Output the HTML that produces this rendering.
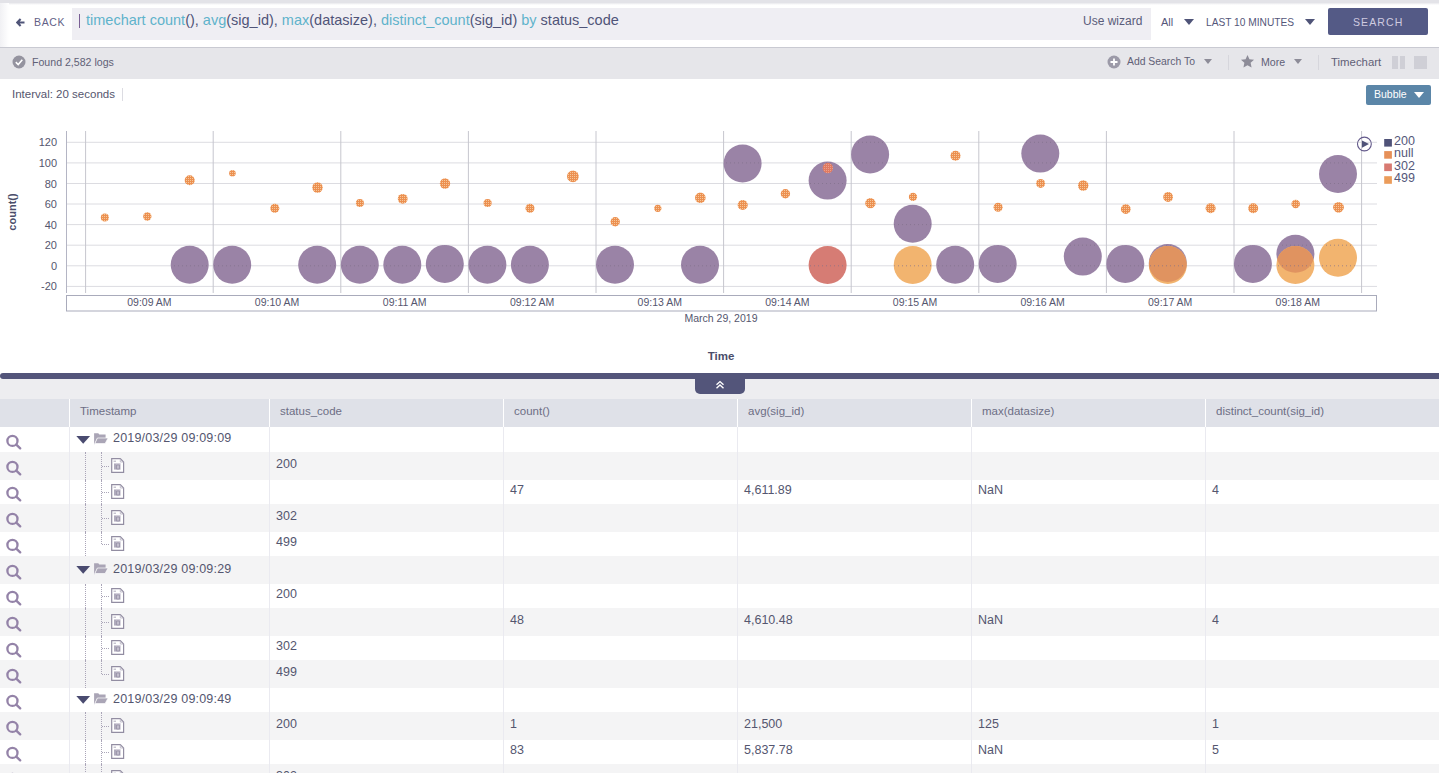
<!DOCTYPE html>
<html><head><meta charset="utf-8">
<style>
*{margin:0;padding:0;box-sizing:border-box}
html,body{width:1439px;height:773px;overflow:hidden;background:#fff;font-family:"Liberation Sans",sans-serif}
.a{position:absolute}
.t{position:absolute;white-space:nowrap;line-height:16px}
#topstrip{left:0;top:0;width:1439px;height:5px;background:linear-gradient(#e3e3e8 0,#e3e3e8 2.5px,#fff 5px)}
#qbox{left:72px;top:8px;width:1079px;height:32px;background:#efeef3}
#statusbar{left:0;top:47px;width:1439px;height:32px;background:#e6e6ea;border-top:1px solid #c9cad2}
.gl{stroke:#dcdce1;stroke-width:1}
.gd{stroke:#7f708c;stroke-width:1;stroke-dasharray:1 3;opacity:.7}
.vl{stroke:#c6c6ce;stroke-width:1}
.ax{stroke:#b4b5c4;stroke-width:1}
.xb{fill:none;stroke:#a9abbb;stroke-width:1}
.yl{font-family:"Liberation Sans",sans-serif;font-size:11px;fill:#55566e;text-anchor:end}
.xl{font-family:"Liberation Sans",sans-serif;font-size:10.5px;fill:#55566e;text-anchor:middle}
.tt{font-family:"Liberation Sans",sans-serif;font-size:11.5px;font-weight:bold;fill:#4a4d6a;text-anchor:middle}
.yt{font-family:"Liberation Sans",sans-serif;font-size:11px;font-weight:bold;fill:#4a4d6a;text-anchor:middle}
.lg{font-family:"Liberation Sans",sans-serif;font-size:12.5px;fill:#55577a}
.row{position:absolute;left:0;width:1439px}
.mag,.ico{position:absolute}
.ts{font-size:12.5px;color:#54566f;letter-spacing:0.2px}
.td{font-size:12.5px;color:#54566f}
.th{font-size:11.5px;color:#6d6e85;margin-top:-1px}
.vd{position:absolute;width:0;border-left:1px dotted #aaa5b8}
.hd{position:absolute;height:0;border-top:1px dotted #aaa5b8}
.coldiv{position:absolute;top:399px;width:1px;height:374px;background:#eaeaf0}
</style></head><body>
<div class="a" id="topstrip"></div>
<div class="a" style="left:0;top:3px;width:9px;height:44px;background:linear-gradient(to right,#f1f1f4,#fff)"></div>
<div class="a" id="qbox"></div>
<svg class="a" style="left:16px;top:17.5px" width="9" height="9" viewBox="0 0 9 9"><path d="M1.2 4.5 H8.5 M4.6 1 L1.2 4.5 L4.6 8" fill="none" stroke="#4f5478" stroke-width="2.1"/></svg>
<div class="t" style="left:34px;top:14px;font-size:10.5px;letter-spacing:0.65px;color:#625f86">BACK</div>
<div class="a" style="left:79px;top:14.2px;width:1.2px;height:14px;background:#7a5f95"></div>
<div class="t" style="left:86px;top:12px;font-size:14.5px;color:#4f5478"><span style="color:#5fb3cb">timechart count</span>(), <span style="color:#5fb3cb">avg</span>(sig_id), <span style="color:#5fb3cb">max</span>(datasize), <span style="color:#5fb3cb">distinct_count</span>(sig_id) <span style="color:#5fb3cb">by</span> status_code</div>
<div class="t" style="left:1083px;top:13px;font-size:12px;color:#5a5c7a">Use wizard</div>
<div class="t" style="left:1161px;top:14px;font-size:11px;color:#55577a">All</div>
<svg class="a" style="left:1184px;top:19px" width="10" height="6"><path d="M0 0 H10 L5 6 Z" fill="#4f5478"/></svg>
<div class="t" style="left:1206px;top:15px;font-size:10.2px;color:#55577a">LAST 10 MINUTES</div>
<svg class="a" style="left:1305px;top:19px" width="10" height="6"><path d="M0 0 H10 L5 6 Z" fill="#4f5478"/></svg>
<div class="a" style="left:1328px;top:8px;width:100px;height:26.5px;background:#545a86;border-radius:2px"></div>
<div class="t" style="left:1353px;top:14px;font-size:10.5px;letter-spacing:1.1px;color:#cfcbe0">SEARCH</div>

<div class="a" id="statusbar"></div>
<svg class="a" style="left:12px;top:55px" width="14" height="14" viewBox="0 0 14 14"><circle cx="7" cy="7" r="6.5" fill="#94939f"/><path d="M3.8 7.2 L6.2 9.5 L10.3 4.8" fill="none" stroke="#fff" stroke-width="1.6"/></svg>
<div class="t" style="left:32px;top:54px;font-size:10.6px;color:#5f6076">Found 2,582 logs</div>
<svg class="a" style="left:1107px;top:55px" width="14" height="14" viewBox="0 0 14 14"><circle cx="7" cy="7" r="6.5" fill="#9c9aa8"/><path d="M7 3.5 V10.5 M3.5 7 H10.5" stroke="#fff" stroke-width="1.8"/></svg>
<div class="t" style="left:1127px;top:54px;font-size:10.4px;color:#5f6076">Add Search To</div>
<svg class="a" style="left:1204px;top:59px" width="8" height="5"><path d="M0 0 H8 L4 5 Z" fill="#8d8c98"/></svg>
<div class="a" style="left:1228px;top:55px;width:1px;height:15px;background:#d6d6dc"></div>
<svg class="a" style="left:1240px;top:54px" width="15" height="15" viewBox="0 0 24 24"><path d="M12 1.5 L15.1 8.3 L22.5 9.1 L17 14.1 L18.5 21.5 L12 17.8 L5.5 21.5 L7 14.1 L1.5 9.1 L8.9 8.3 Z" fill="#8d8c98"/></svg>
<div class="t" style="left:1261px;top:54px;font-size:10.6px;color:#5f6076">More</div>
<svg class="a" style="left:1294px;top:59px" width="8" height="5"><path d="M0 0 H8 L4 5 Z" fill="#8d8c98"/></svg>
<div class="a" style="left:1318px;top:55px;width:1px;height:15px;background:#d6d6dc"></div>
<div class="t" style="left:1331px;top:54px;font-size:11.4px;color:#5f6076">Timechart</div>
<div class="a" style="left:1392px;top:56px;width:5.5px;height:13px;background:#cfcfd6"></div>
<div class="a" style="left:1399.5px;top:56px;width:5.5px;height:13px;background:#cfcfd6"></div>
<div class="a" style="left:1414px;top:56px;width:13px;height:13px;background:#cfcfd6"></div>

<div class="t" style="left:12px;top:86px;font-size:11.5px;color:#55566e">Interval: 20 seconds</div>
<div class="a" style="left:122px;top:88px;width:1px;height:13px;background:#dcdce2"></div>
<div class="a" style="left:1366px;top:85px;width:65px;height:20px;background:#5b86a8;border-radius:2px"></div>
<div class="t" style="left:1374px;top:86px;font-size:10.5px;color:#fff">Bubble</div>
<svg class="a" style="left:1414px;top:92px" width="10" height="6"><path d="M0 0 H10 L5 6 Z" fill="#fff"/></svg>

<svg class="a" style="left:0;top:0" width="1439" height="370">
<defs><pattern id="hatch2" width="2" height="2" patternUnits="userSpaceOnUse"><rect width="2" height="2" fill="#e07a62"/><rect width="1" height="1" fill="#eba08a"/></pattern><pattern id="hatch" width="2" height="2" patternUnits="userSpaceOnUse"><rect width="2" height="2" fill="#ec9050"/><rect width="1" height="1" fill="#f6c79a"/></pattern></defs>
<line x1="66" y1="142.3" x2="1377" y2="142.3" class="gl"/>
<text x="57" y="146.3" class="yl">120</text>
<line x1="66" y1="162.9" x2="1377" y2="162.9" class="gl"/>
<text x="57" y="166.9" class="yl">100</text>
<line x1="66" y1="183.5" x2="1377" y2="183.5" class="gl"/>
<text x="57" y="187.5" class="yl">80</text>
<line x1="66" y1="204.0" x2="1377" y2="204.0" class="gl"/>
<text x="57" y="208.0" class="yl">60</text>
<line x1="66" y1="224.6" x2="1377" y2="224.6" class="gl"/>
<text x="57" y="228.6" class="yl">40</text>
<line x1="66" y1="245.2" x2="1377" y2="245.2" class="gl"/>
<text x="57" y="249.2" class="yl">20</text>
<line x1="66" y1="265.8" x2="1377" y2="265.8" class="gl"/>
<text x="57" y="269.8" class="yl">0</text>
<line x1="66" y1="286.4" x2="1377" y2="286.4" class="gl"/>
<text x="57" y="290.4" class="yl">-20</text>
<line x1="85.6" y1="131" x2="85.6" y2="293" class="vl"/>
<line x1="213.2" y1="131" x2="213.2" y2="293" class="vl"/>
<line x1="340.8" y1="131" x2="340.8" y2="293" class="vl"/>
<line x1="468.4" y1="131" x2="468.4" y2="293" class="vl"/>
<line x1="596.0" y1="131" x2="596.0" y2="293" class="vl"/>
<line x1="723.6" y1="131" x2="723.6" y2="293" class="vl"/>
<line x1="851.2" y1="131" x2="851.2" y2="293" class="vl"/>
<line x1="978.8" y1="131" x2="978.8" y2="293" class="vl"/>
<line x1="1106.4" y1="131" x2="1106.4" y2="293" class="vl"/>
<line x1="1234.0" y1="131" x2="1234.0" y2="293" class="vl"/>
<line x1="1361.6" y1="131" x2="1361.6" y2="293" class="vl"/>
<line x1="66.5" y1="131" x2="66.5" y2="293" class="ax"/>
<circle cx="189.7" cy="264.8" r="19" fill="#9a83a6"/>
<circle cx="232.2" cy="264.8" r="19" fill="#9a83a6"/>
<circle cx="317.2" cy="264.8" r="19" fill="#9a83a6"/>
<circle cx="359.8" cy="264.8" r="19" fill="#9a83a6"/>
<circle cx="402.3" cy="264.8" r="19" fill="#9a83a6"/>
<circle cx="444.8" cy="263.9" r="19" fill="#9a83a6"/>
<circle cx="487.4" cy="264.8" r="19" fill="#9a83a6"/>
<circle cx="529.9" cy="264.8" r="19" fill="#9a83a6"/>
<circle cx="615.0" cy="264.8" r="19" fill="#9a83a6"/>
<circle cx="700.0" cy="264.8" r="19" fill="#9a83a6"/>
<circle cx="742.6" cy="163.5" r="19" fill="#9a83a6"/>
<circle cx="827.6" cy="180.6" r="19" fill="#9a83a6"/>
<circle cx="870.1" cy="154.5" r="19" fill="#9a83a6"/>
<circle cx="912.7" cy="223.7" r="19" fill="#9a83a6"/>
<circle cx="955.2" cy="264.8" r="19" fill="#9a83a6"/>
<circle cx="997.7" cy="263.9" r="19" fill="#9a83a6"/>
<circle cx="1040.3" cy="153.6" r="19" fill="#9a83a6"/>
<circle cx="1082.8" cy="256.6" r="19" fill="#9a83a6"/>
<circle cx="1125.3" cy="263.9" r="19" fill="#9a83a6"/>
<circle cx="1167.8" cy="263.0" r="19" fill="#9a83a6"/>
<circle cx="1252.9" cy="263.9" r="19" fill="#9a83a6"/>
<circle cx="1295.4" cy="253.7" r="19" fill="#9a83a6"/>
<circle cx="1338.0" cy="174.0" r="19" fill="#9a83a6"/>
<circle cx="827.6" cy="265.0" r="19" fill="#d67c74"/>
<circle cx="912.7" cy="265.0" r="19" fill="#f2b46f"/>
<circle cx="1295.4" cy="265.0" r="19" fill="#f2b46f"/>
<circle cx="1338.0" cy="257.8" r="19" fill="#f2b46f"/>
<circle cx="1167.8" cy="265.0" r="19" fill="#f2b46f"/>
<clipPath id="c28"><circle cx="1295.4" cy="253.7" r="19"/></clipPath>
<circle cx="1295.4" cy="265.0" r="19" fill="#e09360" clip-path="url(#c28)"/>
<clipPath id="c25"><circle cx="1167.8" cy="263.0" r="19"/></clipPath>
<circle cx="1167.8" cy="265.0" r="19" fill="#e09360" clip-path="url(#c25)"/>
<clipPath id="bub">
<circle cx="189.7" cy="264.8" r="18.5"/>
<circle cx="232.2" cy="264.8" r="18.5"/>
<circle cx="317.2" cy="264.8" r="18.5"/>
<circle cx="359.8" cy="264.8" r="18.5"/>
<circle cx="402.3" cy="264.8" r="18.5"/>
<circle cx="444.8" cy="263.9" r="18.5"/>
<circle cx="487.4" cy="264.8" r="18.5"/>
<circle cx="529.9" cy="264.8" r="18.5"/>
<circle cx="615.0" cy="264.8" r="18.5"/>
<circle cx="700.0" cy="264.8" r="18.5"/>
<circle cx="742.6" cy="163.5" r="18.5"/>
<circle cx="827.6" cy="180.6" r="18.5"/>
<circle cx="870.1" cy="154.5" r="18.5"/>
<circle cx="912.7" cy="223.7" r="18.5"/>
<circle cx="955.2" cy="264.8" r="18.5"/>
<circle cx="997.7" cy="263.9" r="18.5"/>
<circle cx="1040.3" cy="153.6" r="18.5"/>
<circle cx="1082.8" cy="256.6" r="18.5"/>
<circle cx="1125.3" cy="263.9" r="18.5"/>
<circle cx="1167.8" cy="263.0" r="18.5"/>
<circle cx="1252.9" cy="263.9" r="18.5"/>
<circle cx="1295.4" cy="253.7" r="18.5"/>
<circle cx="1338.0" cy="174.0" r="18.5"/>
<circle cx="827.6" cy="265.0" r="18.5"/>
<circle cx="912.7" cy="265.0" r="18.5"/>
<circle cx="1295.4" cy="265.0" r="18.5"/>
<circle cx="1338.0" cy="257.8" r="18.5"/>
<circle cx="1167.8" cy="265.0" r="18.5"/>
</clipPath>
<g clip-path="url(#bub)">
<line x1="66" y1="142.3" x2="1377" y2="142.3" class="gd"/>
<line x1="66" y1="162.9" x2="1377" y2="162.9" class="gd"/>
<line x1="66" y1="183.5" x2="1377" y2="183.5" class="gd"/>
<line x1="66" y1="204.0" x2="1377" y2="204.0" class="gd"/>
<line x1="66" y1="224.6" x2="1377" y2="224.6" class="gd"/>
<line x1="66" y1="245.2" x2="1377" y2="245.2" class="gd"/>
<line x1="66" y1="265.8" x2="1377" y2="265.8" class="gd"/>
<line x1="66" y1="286.4" x2="1377" y2="286.4" class="gd"/>
</g>
<circle cx="104.8" cy="217.5" r="4.0" fill="url(#hatch)"/>
<circle cx="147.3" cy="216.5" r="4.15" fill="url(#hatch)"/>
<circle cx="189.7" cy="180.2" r="5.05" fill="url(#hatch)"/>
<circle cx="232.4" cy="173.2" r="3.25" fill="url(#hatch)"/>
<circle cx="274.8" cy="208.2" r="4.5" fill="url(#hatch)"/>
<circle cx="317.5" cy="187.5" r="5.2" fill="url(#hatch)"/>
<circle cx="359.9" cy="203" r="4.0" fill="url(#hatch)"/>
<circle cx="402.7" cy="198.8" r="4.9" fill="url(#hatch)"/>
<circle cx="445" cy="183.5" r="5.15" fill="url(#hatch)"/>
<circle cx="487.6" cy="203" r="4.05" fill="url(#hatch)"/>
<circle cx="530" cy="208.2" r="4.5" fill="url(#hatch)"/>
<circle cx="572.9" cy="176.3" r="5.9" fill="url(#hatch)"/>
<circle cx="615.2" cy="221.7" r="4.7" fill="url(#hatch)"/>
<circle cx="657.8" cy="208.3" r="3.6" fill="url(#hatch)"/>
<circle cx="700.3" cy="197.8" r="5.3" fill="url(#hatch)"/>
<circle cx="742.7" cy="205" r="5.05" fill="url(#hatch)"/>
<circle cx="785.4" cy="193.7" r="4.7" fill="url(#hatch)"/>
<circle cx="827.8" cy="168" r="5.2" fill="url(#hatch2)"/>
<circle cx="870.4" cy="203.2" r="5.15" fill="url(#hatch)"/>
<circle cx="913" cy="196.9" r="4.15" fill="url(#hatch)"/>
<circle cx="955.5" cy="155.7" r="5.05" fill="url(#hatch)"/>
<circle cx="998.1" cy="207.2" r="4.5" fill="url(#hatch)"/>
<circle cx="1040.6" cy="183.4" r="4.5" fill="url(#hatch)"/>
<circle cx="1083.2" cy="185.5" r="5.2" fill="url(#hatch)"/>
<circle cx="1125.8" cy="209.1" r="4.9" fill="url(#hatch)"/>
<circle cx="1168.1" cy="197" r="4.9" fill="url(#hatch)"/>
<circle cx="1210.6" cy="208.2" r="5.0" fill="url(#hatch)"/>
<circle cx="1253.2" cy="208.2" r="5.0" fill="url(#hatch)"/>
<circle cx="1295.7" cy="203.9" r="4.25" fill="url(#hatch)"/>
<circle cx="1338.5" cy="207.3" r="5.4" fill="url(#hatch)"/>
<rect x="66.5" y="295.5" width="1310" height="15.5" class="xb"/>
<text x="149.4" y="306" class="xl">09:09 AM</text>
<text x="277.0" y="306" class="xl">09:10 AM</text>
<text x="404.6" y="306" class="xl">09:11 AM</text>
<text x="532.2" y="306" class="xl">09:12 AM</text>
<text x="659.8" y="306" class="xl">09:13 AM</text>
<text x="787.4" y="306" class="xl">09:14 AM</text>
<text x="915.0" y="306" class="xl">09:15 AM</text>
<text x="1042.6" y="306" class="xl">09:16 AM</text>
<text x="1170.2" y="306" class="xl">09:17 AM</text>
<text x="1297.8" y="306" class="xl">09:18 AM</text>
<text x="721" y="322" class="xl">March 29, 2019</text>
<text x="721" y="360" class="tt">Time</text>
<text transform="translate(16,212) rotate(-90)" class="yt">count()</text>
<circle cx="1364.4" cy="144" r="6.9" fill="none" stroke="#62588a" stroke-width="1.1"/>
<path d="M1362 140.4 L1369 144 L1362 147.7 Z" fill="#4f5278"/>
<rect x="1384.2" y="139" width="7.7" height="7.6" fill="#4f5278"/>
<text x="1394" y="144.9" class="lg">200</text>
<rect x="1384.2" y="151.1" width="7.7" height="7.6" fill="#e69058"/>
<text x="1394" y="157.4" class="lg">null</text>
<rect x="1384.2" y="163.5" width="7.7" height="7.6" fill="#d87a72"/>
<text x="1394" y="169.9" class="lg">302</text>
<rect x="1384.2" y="176.2" width="7.7" height="7.6" fill="#eb9c5a"/>
<text x="1394" y="182.4" class="lg">499</text>
</svg>

<div class="a" style="left:0;top:373px;width:1439px;height:6px;background:#53557a;border-radius:3px 0 0 3px"></div>
<div class="a" style="left:0;top:379px;width:1439px;height:20px;background:#ededf0"></div>
<div class="a" style="left:695px;top:378px;width:50px;height:16px;background:#53557a;border-radius:0 0 5px 5px"></div>
<svg class="a" style="left:715px;top:380px" width="10" height="10" viewBox="0 0 10 10"><path d="M1.5 4.8 L5 1.6 L8.5 4.8 M1.5 8.2 L5 5 L8.5 8.2" fill="none" stroke="#fff" stroke-width="1.4"/></svg>

<div class="a" style="left:0;top:399px;width:1439px;height:28px;background:#dfe1e8"></div>
<div class="t th" style="left:80px;top:404px">Timestamp</div>
<div class="t th" style="left:280px;top:404px">status_code</div>
<div class="t th" style="left:514px;top:404px">count()</div>
<div class="t th" style="left:748px;top:404px">avg(sig_id)</div>
<div class="t th" style="left:982px;top:404px">max(datasize)</div>
<div class="t th" style="left:1216px;top:404px">distinct_count(sig_id)</div>
<div class="row" style="top:427px;height:25px;background:#ffffff"></div>
<svg class="mag" style="left:6px;top:433.5px" width="17" height="17" viewBox="0 0 17 17"><circle cx="6.45" cy="6.9" r="5.05" fill="none" stroke="#9483a8" stroke-width="2.3"/><line x1="10.3" y1="10.6" x2="14.2" y2="14.3" stroke="#9483a8" stroke-width="2.4" stroke-linecap="round"/></svg>
<svg class="ico" style="left:76px;top:432.5px" width="34" height="14" viewBox="0 0 34 14"><path d="M0.3 3 L14.1 3 L7.2 10.7 Z" fill="#4a4b70"/><path d="M18.1 0.3 h4.2 l1 1.3 h6.3 v3.5 h-8.4 l-3.1 6.6 z" fill="#aaa5b6"/><path d="M21.4 5 h10.7 l-3 5.6 h-10.3 z" fill="#aaa5b6" stroke="#fff" stroke-width="0.7"/></svg>
<div class="t ts" style="left:113px;top:430.0px">2019/03/29 09:09:09</div>
<div class="row" style="top:452px;height:28px;background:#f4f4f5"></div>
<svg class="mag" style="left:6px;top:460.0px" width="17" height="17" viewBox="0 0 17 17"><circle cx="6.45" cy="6.9" r="5.05" fill="none" stroke="#9483a8" stroke-width="2.3"/><line x1="10.3" y1="10.6" x2="14.2" y2="14.3" stroke="#9483a8" stroke-width="2.4" stroke-linecap="round"/></svg>
<div class="vd" style="left:85px;top:452px;height:28px"></div>
<div class="vd" style="left:101px;top:452px;height:28px"></div>
<div class="hd" style="left:102px;top:466px;width:7px"></div>
<svg class="ico" style="left:111px;top:457.8px" width="14" height="15" viewBox="0 0 14 15"><path d="M0.7 0.7 h8.6 l3.3 3.3 v10.3 h-11.9 z" fill="#fff" stroke="#928da2" stroke-width="1.2"/><path d="M9.3 0.7 v3.3 h3.3" fill="none" stroke="#b5b0c0" stroke-width="0.8"/><line x1="2.6" y1="3.2" x2="5" y2="3.2" stroke="#9b96aa" stroke-width="0.8"/><rect x="3" y="5.3" width="6.6" height="6.4" fill="#c2bdcc"/><path d="M4 6 v5 M5.5 7 h3 v4 h-3 z" fill="none" stroke="#948fa4" stroke-width="0.8"/></svg>
<div class="t td" style="left:276.0px;top:456.0px">200</div>
<div class="row" style="top:480px;height:24px;background:#ffffff"></div>
<svg class="mag" style="left:6px;top:486.0px" width="17" height="17" viewBox="0 0 17 17"><circle cx="6.45" cy="6.9" r="5.05" fill="none" stroke="#9483a8" stroke-width="2.3"/><line x1="10.3" y1="10.6" x2="14.2" y2="14.3" stroke="#9483a8" stroke-width="2.4" stroke-linecap="round"/></svg>
<div class="vd" style="left:85px;top:480px;height:24px"></div>
<div class="vd" style="left:101px;top:480px;height:24px"></div>
<div class="hd" style="left:102px;top:492px;width:7px"></div>
<svg class="ico" style="left:111px;top:483.8px" width="14" height="15" viewBox="0 0 14 15"><path d="M0.7 0.7 h8.6 l3.3 3.3 v10.3 h-11.9 z" fill="#fff" stroke="#928da2" stroke-width="1.2"/><path d="M9.3 0.7 v3.3 h3.3" fill="none" stroke="#b5b0c0" stroke-width="0.8"/><line x1="2.6" y1="3.2" x2="5" y2="3.2" stroke="#9b96aa" stroke-width="0.8"/><rect x="3" y="5.3" width="6.6" height="6.4" fill="#c2bdcc"/><path d="M4 6 v5 M5.5 7 h3 v4 h-3 z" fill="none" stroke="#948fa4" stroke-width="0.8"/></svg>
<div class="t td" style="left:510.0px;top:482.0px">47</div>
<div class="t td" style="left:744.0px;top:482.0px">4,611.89</div>
<div class="t td" style="left:978.0px;top:482.0px">NaN</div>
<div class="t td" style="left:1212.0px;top:482.0px">4</div>
<div class="row" style="top:504px;height:28px;background:#f4f4f5"></div>
<svg class="mag" style="left:6px;top:512.0px" width="17" height="17" viewBox="0 0 17 17"><circle cx="6.45" cy="6.9" r="5.05" fill="none" stroke="#9483a8" stroke-width="2.3"/><line x1="10.3" y1="10.6" x2="14.2" y2="14.3" stroke="#9483a8" stroke-width="2.4" stroke-linecap="round"/></svg>
<div class="vd" style="left:85px;top:504px;height:28px"></div>
<div class="vd" style="left:101px;top:504px;height:28px"></div>
<div class="hd" style="left:102px;top:518px;width:7px"></div>
<svg class="ico" style="left:111px;top:509.8px" width="14" height="15" viewBox="0 0 14 15"><path d="M0.7 0.7 h8.6 l3.3 3.3 v10.3 h-11.9 z" fill="#fff" stroke="#928da2" stroke-width="1.2"/><path d="M9.3 0.7 v3.3 h3.3" fill="none" stroke="#b5b0c0" stroke-width="0.8"/><line x1="2.6" y1="3.2" x2="5" y2="3.2" stroke="#9b96aa" stroke-width="0.8"/><rect x="3" y="5.3" width="6.6" height="6.4" fill="#c2bdcc"/><path d="M4 6 v5 M5.5 7 h3 v4 h-3 z" fill="none" stroke="#948fa4" stroke-width="0.8"/></svg>
<div class="t td" style="left:276.0px;top:508.0px">302</div>
<div class="row" style="top:532px;height:24px;background:#ffffff"></div>
<svg class="mag" style="left:6px;top:538.0px" width="17" height="17" viewBox="0 0 17 17"><circle cx="6.45" cy="6.9" r="5.05" fill="none" stroke="#9483a8" stroke-width="2.3"/><line x1="10.3" y1="10.6" x2="14.2" y2="14.3" stroke="#9483a8" stroke-width="2.4" stroke-linecap="round"/></svg>
<div class="vd" style="left:85px;top:532px;height:24px"></div>
<div class="vd" style="left:101px;top:532px;height:12px"></div>
<div class="hd" style="left:102px;top:544px;width:7px"></div>
<svg class="ico" style="left:111px;top:535.8px" width="14" height="15" viewBox="0 0 14 15"><path d="M0.7 0.7 h8.6 l3.3 3.3 v10.3 h-11.9 z" fill="#fff" stroke="#928da2" stroke-width="1.2"/><path d="M9.3 0.7 v3.3 h3.3" fill="none" stroke="#b5b0c0" stroke-width="0.8"/><line x1="2.6" y1="3.2" x2="5" y2="3.2" stroke="#9b96aa" stroke-width="0.8"/><rect x="3" y="5.3" width="6.6" height="6.4" fill="#c2bdcc"/><path d="M4 6 v5 M5.5 7 h3 v4 h-3 z" fill="none" stroke="#948fa4" stroke-width="0.8"/></svg>
<div class="t td" style="left:276.0px;top:534.0px">499</div>
<div class="row" style="top:556px;height:28px;background:#f4f4f5"></div>
<svg class="mag" style="left:6px;top:564.0px" width="17" height="17" viewBox="0 0 17 17"><circle cx="6.45" cy="6.9" r="5.05" fill="none" stroke="#9483a8" stroke-width="2.3"/><line x1="10.3" y1="10.6" x2="14.2" y2="14.3" stroke="#9483a8" stroke-width="2.4" stroke-linecap="round"/></svg>
<svg class="ico" style="left:76px;top:563.0px" width="34" height="14" viewBox="0 0 34 14"><path d="M0.3 3 L14.1 3 L7.2 10.7 Z" fill="#4a4b70"/><path d="M18.1 0.3 h4.2 l1 1.3 h6.3 v3.5 h-8.4 l-3.1 6.6 z" fill="#aaa5b6"/><path d="M21.4 5 h10.7 l-3 5.6 h-10.3 z" fill="#aaa5b6" stroke="#fff" stroke-width="0.7"/></svg>
<div class="t ts" style="left:113px;top:560.5px">2019/03/29 09:09:29</div>
<div class="row" style="top:584px;height:24px;background:#ffffff"></div>
<svg class="mag" style="left:6px;top:590.0px" width="17" height="17" viewBox="0 0 17 17"><circle cx="6.45" cy="6.9" r="5.05" fill="none" stroke="#9483a8" stroke-width="2.3"/><line x1="10.3" y1="10.6" x2="14.2" y2="14.3" stroke="#9483a8" stroke-width="2.4" stroke-linecap="round"/></svg>
<div class="vd" style="left:85px;top:584px;height:24px"></div>
<div class="vd" style="left:101px;top:584px;height:24px"></div>
<div class="hd" style="left:102px;top:596px;width:7px"></div>
<svg class="ico" style="left:111px;top:587.8px" width="14" height="15" viewBox="0 0 14 15"><path d="M0.7 0.7 h8.6 l3.3 3.3 v10.3 h-11.9 z" fill="#fff" stroke="#928da2" stroke-width="1.2"/><path d="M9.3 0.7 v3.3 h3.3" fill="none" stroke="#b5b0c0" stroke-width="0.8"/><line x1="2.6" y1="3.2" x2="5" y2="3.2" stroke="#9b96aa" stroke-width="0.8"/><rect x="3" y="5.3" width="6.6" height="6.4" fill="#c2bdcc"/><path d="M4 6 v5 M5.5 7 h3 v4 h-3 z" fill="none" stroke="#948fa4" stroke-width="0.8"/></svg>
<div class="t td" style="left:276.0px;top:586.0px">200</div>
<div class="row" style="top:608px;height:28px;background:#f4f4f5"></div>
<svg class="mag" style="left:6px;top:616.0px" width="17" height="17" viewBox="0 0 17 17"><circle cx="6.45" cy="6.9" r="5.05" fill="none" stroke="#9483a8" stroke-width="2.3"/><line x1="10.3" y1="10.6" x2="14.2" y2="14.3" stroke="#9483a8" stroke-width="2.4" stroke-linecap="round"/></svg>
<div class="vd" style="left:85px;top:608px;height:28px"></div>
<div class="vd" style="left:101px;top:608px;height:28px"></div>
<div class="hd" style="left:102px;top:622px;width:7px"></div>
<svg class="ico" style="left:111px;top:613.8px" width="14" height="15" viewBox="0 0 14 15"><path d="M0.7 0.7 h8.6 l3.3 3.3 v10.3 h-11.9 z" fill="#fff" stroke="#928da2" stroke-width="1.2"/><path d="M9.3 0.7 v3.3 h3.3" fill="none" stroke="#b5b0c0" stroke-width="0.8"/><line x1="2.6" y1="3.2" x2="5" y2="3.2" stroke="#9b96aa" stroke-width="0.8"/><rect x="3" y="5.3" width="6.6" height="6.4" fill="#c2bdcc"/><path d="M4 6 v5 M5.5 7 h3 v4 h-3 z" fill="none" stroke="#948fa4" stroke-width="0.8"/></svg>
<div class="t td" style="left:510.0px;top:612.0px">48</div>
<div class="t td" style="left:744.0px;top:612.0px">4,610.48</div>
<div class="t td" style="left:978.0px;top:612.0px">NaN</div>
<div class="t td" style="left:1212.0px;top:612.0px">4</div>
<div class="row" style="top:636px;height:24px;background:#ffffff"></div>
<svg class="mag" style="left:6px;top:642.0px" width="17" height="17" viewBox="0 0 17 17"><circle cx="6.45" cy="6.9" r="5.05" fill="none" stroke="#9483a8" stroke-width="2.3"/><line x1="10.3" y1="10.6" x2="14.2" y2="14.3" stroke="#9483a8" stroke-width="2.4" stroke-linecap="round"/></svg>
<div class="vd" style="left:85px;top:636px;height:24px"></div>
<div class="vd" style="left:101px;top:636px;height:24px"></div>
<div class="hd" style="left:102px;top:648px;width:7px"></div>
<svg class="ico" style="left:111px;top:639.8px" width="14" height="15" viewBox="0 0 14 15"><path d="M0.7 0.7 h8.6 l3.3 3.3 v10.3 h-11.9 z" fill="#fff" stroke="#928da2" stroke-width="1.2"/><path d="M9.3 0.7 v3.3 h3.3" fill="none" stroke="#b5b0c0" stroke-width="0.8"/><line x1="2.6" y1="3.2" x2="5" y2="3.2" stroke="#9b96aa" stroke-width="0.8"/><rect x="3" y="5.3" width="6.6" height="6.4" fill="#c2bdcc"/><path d="M4 6 v5 M5.5 7 h3 v4 h-3 z" fill="none" stroke="#948fa4" stroke-width="0.8"/></svg>
<div class="t td" style="left:276.0px;top:638.0px">302</div>
<div class="row" style="top:660px;height:28px;background:#f4f4f5"></div>
<svg class="mag" style="left:6px;top:668.0px" width="17" height="17" viewBox="0 0 17 17"><circle cx="6.45" cy="6.9" r="5.05" fill="none" stroke="#9483a8" stroke-width="2.3"/><line x1="10.3" y1="10.6" x2="14.2" y2="14.3" stroke="#9483a8" stroke-width="2.4" stroke-linecap="round"/></svg>
<div class="vd" style="left:85px;top:660px;height:28px"></div>
<div class="vd" style="left:101px;top:660px;height:14px"></div>
<div class="hd" style="left:102px;top:674px;width:7px"></div>
<svg class="ico" style="left:111px;top:665.8px" width="14" height="15" viewBox="0 0 14 15"><path d="M0.7 0.7 h8.6 l3.3 3.3 v10.3 h-11.9 z" fill="#fff" stroke="#928da2" stroke-width="1.2"/><path d="M9.3 0.7 v3.3 h3.3" fill="none" stroke="#b5b0c0" stroke-width="0.8"/><line x1="2.6" y1="3.2" x2="5" y2="3.2" stroke="#9b96aa" stroke-width="0.8"/><rect x="3" y="5.3" width="6.6" height="6.4" fill="#c2bdcc"/><path d="M4 6 v5 M5.5 7 h3 v4 h-3 z" fill="none" stroke="#948fa4" stroke-width="0.8"/></svg>
<div class="t td" style="left:276.0px;top:664.0px">499</div>
<div class="row" style="top:688px;height:24px;background:#ffffff"></div>
<svg class="mag" style="left:6px;top:694.0px" width="17" height="17" viewBox="0 0 17 17"><circle cx="6.45" cy="6.9" r="5.05" fill="none" stroke="#9483a8" stroke-width="2.3"/><line x1="10.3" y1="10.6" x2="14.2" y2="14.3" stroke="#9483a8" stroke-width="2.4" stroke-linecap="round"/></svg>
<svg class="ico" style="left:76px;top:693.0px" width="34" height="14" viewBox="0 0 34 14"><path d="M0.3 3 L14.1 3 L7.2 10.7 Z" fill="#4a4b70"/><path d="M18.1 0.3 h4.2 l1 1.3 h6.3 v3.5 h-8.4 l-3.1 6.6 z" fill="#aaa5b6"/><path d="M21.4 5 h10.7 l-3 5.6 h-10.3 z" fill="#aaa5b6" stroke="#fff" stroke-width="0.7"/></svg>
<div class="t ts" style="left:113px;top:690.5px">2019/03/29 09:09:49</div>
<div class="row" style="top:712px;height:28px;background:#f4f4f5"></div>
<svg class="mag" style="left:6px;top:720.0px" width="17" height="17" viewBox="0 0 17 17"><circle cx="6.45" cy="6.9" r="5.05" fill="none" stroke="#9483a8" stroke-width="2.3"/><line x1="10.3" y1="10.6" x2="14.2" y2="14.3" stroke="#9483a8" stroke-width="2.4" stroke-linecap="round"/></svg>
<div class="vd" style="left:85px;top:712px;height:28px"></div>
<div class="vd" style="left:101px;top:712px;height:28px"></div>
<div class="hd" style="left:102px;top:726px;width:7px"></div>
<svg class="ico" style="left:111px;top:717.8px" width="14" height="15" viewBox="0 0 14 15"><path d="M0.7 0.7 h8.6 l3.3 3.3 v10.3 h-11.9 z" fill="#fff" stroke="#928da2" stroke-width="1.2"/><path d="M9.3 0.7 v3.3 h3.3" fill="none" stroke="#b5b0c0" stroke-width="0.8"/><line x1="2.6" y1="3.2" x2="5" y2="3.2" stroke="#9b96aa" stroke-width="0.8"/><rect x="3" y="5.3" width="6.6" height="6.4" fill="#c2bdcc"/><path d="M4 6 v5 M5.5 7 h3 v4 h-3 z" fill="none" stroke="#948fa4" stroke-width="0.8"/></svg>
<div class="t td" style="left:276.0px;top:716.0px">200</div>
<div class="t td" style="left:510.0px;top:716.0px">1</div>
<div class="t td" style="left:744.0px;top:716.0px">21,500</div>
<div class="t td" style="left:978.0px;top:716.0px">125</div>
<div class="t td" style="left:1212.0px;top:716.0px">1</div>
<div class="row" style="top:740px;height:24px;background:#ffffff"></div>
<svg class="mag" style="left:6px;top:746.0px" width="17" height="17" viewBox="0 0 17 17"><circle cx="6.45" cy="6.9" r="5.05" fill="none" stroke="#9483a8" stroke-width="2.3"/><line x1="10.3" y1="10.6" x2="14.2" y2="14.3" stroke="#9483a8" stroke-width="2.4" stroke-linecap="round"/></svg>
<div class="vd" style="left:85px;top:740px;height:24px"></div>
<div class="vd" style="left:101px;top:740px;height:24px"></div>
<div class="hd" style="left:102px;top:752px;width:7px"></div>
<svg class="ico" style="left:111px;top:743.8px" width="14" height="15" viewBox="0 0 14 15"><path d="M0.7 0.7 h8.6 l3.3 3.3 v10.3 h-11.9 z" fill="#fff" stroke="#928da2" stroke-width="1.2"/><path d="M9.3 0.7 v3.3 h3.3" fill="none" stroke="#b5b0c0" stroke-width="0.8"/><line x1="2.6" y1="3.2" x2="5" y2="3.2" stroke="#9b96aa" stroke-width="0.8"/><rect x="3" y="5.3" width="6.6" height="6.4" fill="#c2bdcc"/><path d="M4 6 v5 M5.5 7 h3 v4 h-3 z" fill="none" stroke="#948fa4" stroke-width="0.8"/></svg>
<div class="t td" style="left:510.0px;top:742.0px">83</div>
<div class="t td" style="left:744.0px;top:742.0px">5,837.78</div>
<div class="t td" style="left:978.0px;top:742.0px">NaN</div>
<div class="t td" style="left:1212.0px;top:742.0px">5</div>
<div class="row" style="top:764px;height:28px;background:#f4f4f5"></div>
<svg class="mag" style="left:6px;top:772.0px" width="17" height="17" viewBox="0 0 17 17"><circle cx="6.45" cy="6.9" r="5.05" fill="none" stroke="#9483a8" stroke-width="2.3"/><line x1="10.3" y1="10.6" x2="14.2" y2="14.3" stroke="#9483a8" stroke-width="2.4" stroke-linecap="round"/></svg>
<div class="vd" style="left:85px;top:764px;height:28px"></div>
<div class="vd" style="left:101px;top:764px;height:28px"></div>
<div class="hd" style="left:102px;top:778px;width:7px"></div>
<svg class="ico" style="left:111px;top:769.8px" width="14" height="15" viewBox="0 0 14 15"><path d="M0.7 0.7 h8.6 l3.3 3.3 v10.3 h-11.9 z" fill="#fff" stroke="#928da2" stroke-width="1.2"/><path d="M9.3 0.7 v3.3 h3.3" fill="none" stroke="#b5b0c0" stroke-width="0.8"/><line x1="2.6" y1="3.2" x2="5" y2="3.2" stroke="#9b96aa" stroke-width="0.8"/><rect x="3" y="5.3" width="6.6" height="6.4" fill="#c2bdcc"/><path d="M4 6 v5 M5.5 7 h3 v4 h-3 z" fill="none" stroke="#948fa4" stroke-width="0.8"/></svg>
<div class="t td" style="left:276.0px;top:768.0px">302</div>
<div class="coldiv" style="left:69px;background:#ffffff;height:28px"></div>
<div class="coldiv" style="left:269px;background:#ffffff;height:28px"></div>
<div class="coldiv" style="left:503px;background:#ffffff;height:28px"></div>
<div class="coldiv" style="left:737px;background:#ffffff;height:28px"></div>
<div class="coldiv" style="left:971px;background:#ffffff;height:28px"></div>
<div class="coldiv" style="left:1205px;background:#ffffff;height:28px"></div>
<div class="coldiv" style="left:69px;top:427px;height:346px"></div>
<div class="coldiv" style="left:269px;top:427px;height:346px"></div>
<div class="coldiv" style="left:503px;top:427px;height:346px"></div>
<div class="coldiv" style="left:737px;top:427px;height:346px"></div>
<div class="coldiv" style="left:971px;top:427px;height:346px"></div>
<div class="coldiv" style="left:1205px;top:427px;height:346px"></div>
</body></html>
